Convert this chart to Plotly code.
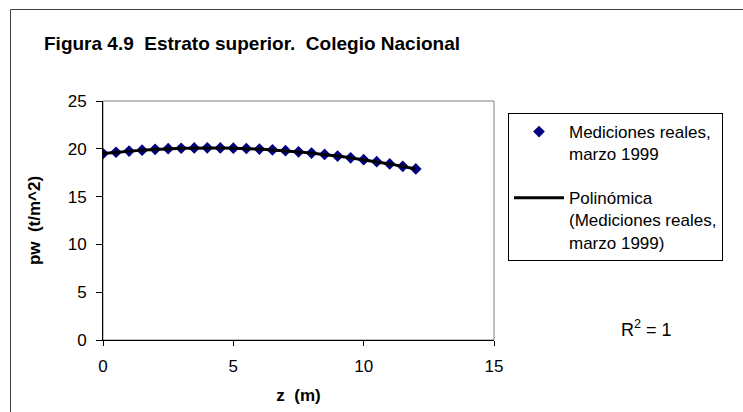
import numpy as np
import plotly.graph_objects as go

# Profundidad z (m) y presión de poros pw (t/m^2), mediciones de marzo 1999
z_m = [0.0, 0.5, 1.0, 1.5, 2.0, 2.5, 3.0, 3.5, 4.0, 4.5, 5.0, 5.5, 6.0,
       6.5, 7.0, 7.5, 8.0, 8.5, 9.0, 9.5, 10.0, 10.5, 11.0, 11.5, 12.0]
pw_tm2 = [19.50, 19.64, 19.76, 19.86, 19.94, 20.01, 20.06, 20.09, 20.10,
          20.09, 20.07, 20.03, 19.97, 19.89, 19.80, 19.68, 19.55, 19.41,
          19.24, 19.06, 18.86, 18.65, 18.42, 18.17, 17.90]

x_ticks = [0, 5, 10, 15]
y_ticks = [0, 5, 10, 15, 20, 25]

FONT = "Liberation Sans, Arial, sans-serif"
W, H = 743, 412
L, R, T, B = 103, 249, 101, 72
PW, PH = W - L - R, H - T - B


def px_x(px):
    return (px - L) / PW


def px_y(py):
    return (H - B - py) / PH


# Ajuste polinómico de segundo grado
coef = np.polyfit(z_m, pw_tm2, 2)
z_fit = np.linspace(min(z_m), max(z_m), 120)
pw_fit = np.polyval(coef, z_fit)

fig = go.Figure()
fig.add_trace(go.Scatter(
    x=z_m, y=pw_tm2, mode="markers", legendgroup="med",
    name="Mediciones reales,<br>marzo 1999",
    marker=dict(symbol="diamond", size=9, color="#000080",
                line=dict(width=0)),
))
fig.add_trace(go.Scatter(
    x=z_fit, y=pw_fit, mode="lines", legendgroup="pol",
    name="Polinómica<br>(Mediciones reales,<br>marzo 1999)",
    line=dict(color="black", width=3),
))

fig.update_layout(
    width=W, height=H,
    margin=dict(l=L, r=R, t=T, b=B),
    paper_bgcolor="white", plot_bgcolor="white",
    font=dict(family=FONT, size=17, color="black"),
    title=dict(
        text="<b>Figura 4.9  Estrato superior.  Colegio Nacional</b>",
        font=dict(family=FONT, size=19, color="black"),
        xref="container", yref="container",
        x=252 / W, y=1 - 43 / H, xanchor="center", yanchor="middle",
    ),
    showlegend=True,
    legend=dict(
        x=px_x(508), y=px_y(113), xanchor="left", yanchor="top",
        bordercolor="black", borderwidth=1, bgcolor="white",
        font=dict(family=FONT, size=17, color="black"),
        valign="top", itemwidth=50, tracegroupgap=19,
    ),
    xaxis=dict(
        range=[0, 15], tickvals=x_ticks, ticks="outside", ticklen=5,
        tickcolor="black", showline=True, linecolor="black", linewidth=1,
        showgrid=False, zeroline=False, ticklabelstandoff=6,
        tickfont=dict(family=FONT, size=17),
        title=dict(text="<b>z  (m)</b>", standoff=13,
                   font=dict(family=FONT, size=17)),
    ),
    yaxis=dict(
        range=[0, 25], tickvals=y_ticks, ticks="outside", ticklen=6,
        tickcolor="black", showline=True, linecolor="black", linewidth=1,
        showgrid=False, zeroline=False, ticklabelstandoff=6,
        tickfont=dict(family=FONT, size=17),
        title=dict(text="<b>pw  (t/m^2)</b>", standoff=22,
                   font=dict(family=FONT, size=17)),
    ),
    shapes=[
        # borde del área de trazado
        dict(type="rect", xref="paper", yref="paper", x0=0, y0=0, x1=1, y1=1,
             line=dict(color="#808080", width=1), layer="below"),
        # marco exterior del gráfico
        dict(type="rect", xref="paper", yref="paper",
             x0=px_x(10.5), y0=px_y(430), x1=px_x(760), y1=px_y(9.5),
             line=dict(color="#404040", width=1), layer="below"),
    ],
    annotations=[
        dict(text="R<sup>2</sup> = 1", xref="paper", yref="paper",
             x=px_x(646), y=px_y(328), xanchor="center", yanchor="middle",
             showarrow=False, font=dict(family=FONT, size=18, color="black")),
    ],
)

fig.write_html("out.html")
